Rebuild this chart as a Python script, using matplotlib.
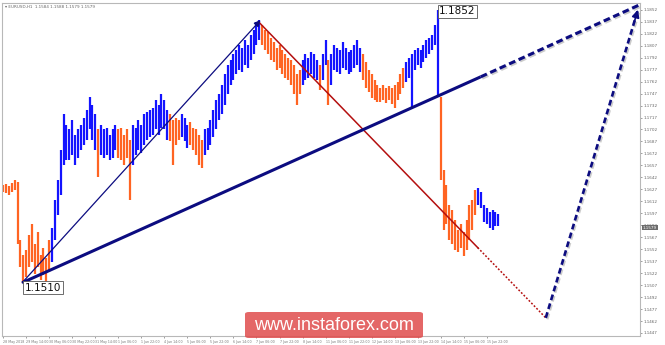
import numpy as np
import matplotlib
import matplotlib.pyplot as plt
import matplotlib.patheffects as pe
from matplotlib.patches import FancyBboxPatch
from matplotlib.transforms import blended_transform_factory

# Use non-interactive backend
matplotlib.use('Agg')

# --- EURUSD H1, one bar every 2 hours (high / low) ---
bar_highs = [
    1.1633, 1.1634, 1.1631, 1.1635, 1.1639, 1.1636, 1.1564, 1.1545, 1.1551, 1.1570,
    1.1583, 1.1558, 1.1574, 1.1545, 1.1554, 1.1541, 1.1564, 1.1579, 1.1614, 1.1639,
    1.1676, 1.1721, 1.1708, 1.1702, 1.1714, 1.1695, 1.1702, 1.1708, 1.1717, 1.1727,
    1.1743, 1.1733, 1.1721, 1.1702, 1.1708, 1.1702, 1.1704, 1.1695, 1.1702, 1.1708,
    1.1702, 1.1704, 1.1695, 1.1702, 1.1689, 1.1708, 1.1704, 1.1714, 1.1708, 1.1721,
    1.1724, 1.1727, 1.1729, 1.1739, 1.1733, 1.1746, 1.1739, 1.1727, 1.1721, 1.1714,
    1.1717, 1.1714, 1.1721, 1.1717, 1.1708, 1.1712, 1.1704, 1.1702, 1.1695, 1.1689,
    1.1702, 1.1704, 1.1714, 1.1727, 1.1739, 1.1746, 1.1758, 1.1771, 1.1783, 1.1789,
    1.1796, 1.1802, 1.1808, 1.1804, 1.1814, 1.1808, 1.1821, 1.1827, 1.1837, 1.1839,
    1.1833, 1.1827, 1.1824, 1.1817, 1.1812, 1.1804, 1.1808, 1.1802, 1.1796, 1.1792,
    1.1789, 1.1783, 1.1771, 1.1777, 1.1789, 1.1796, 1.1792, 1.1799, 1.1796, 1.1789,
    1.1783, 1.1796, 1.1814, 1.1789, 1.1796, 1.1808, 1.1804, 1.1802, 1.1812, 1.1804,
    1.1799, 1.1802, 1.1808, 1.1814, 1.1804, 1.1796, 1.1787, 1.1777, 1.1771, 1.1764,
    1.1758, 1.1754, 1.1758, 1.1754, 1.1757, 1.1754, 1.1758, 1.1762, 1.1771, 1.1779,
    1.1787, 1.1792, 1.1796, 1.1802, 1.1804, 1.1802, 1.1808, 1.1814, 1.1817, 1.1821,
    1.1833, 1.1852, 1.1743, 1.1651, 1.1633, 1.1607, 1.1601, 1.1589, 1.1576, 1.1583,
    1.1574, 1.1589, 1.1607, 1.1614, 1.1626, 1.1629, 1.1624, 1.1607, 1.1604, 1.1599,
    1.1601, 1.1599, 1.1596,
]
bar_lows = [
    1.1624, 1.1623, 1.1620, 1.1624, 1.1626, 1.1558, 1.1530, 1.1510, 1.1517, 1.1530,
    1.1536, 1.1521, 1.1530, 1.1513, 1.1520, 1.1511, 1.1524, 1.1536, 1.1564, 1.1595,
    1.1620, 1.1658, 1.1664, 1.1664, 1.1670, 1.1658, 1.1666, 1.1676, 1.1683, 1.1689,
    1.1702, 1.1689, 1.1676, 1.1643, 1.1670, 1.1666, 1.1670, 1.1664, 1.1666, 1.1676,
    1.1666, 1.1664, 1.1658, 1.1666, 1.1614, 1.1658, 1.1670, 1.1676, 1.1673, 1.1683,
    1.1689, 1.1692, 1.1695, 1.1702, 1.1695, 1.1704, 1.1702, 1.1689, 1.1687, 1.1658,
    1.1683, 1.1689, 1.1692, 1.1687, 1.1679, 1.1683, 1.1676, 1.1670, 1.1658, 1.1654,
    1.1670, 1.1676, 1.1683, 1.1692, 1.1702, 1.1714, 1.1721, 1.1733, 1.1746, 1.1758,
    1.1764, 1.1771, 1.1777, 1.1774, 1.1783, 1.1779, 1.1789, 1.1796, 1.1808, 1.1814,
    1.1808, 1.1802, 1.1796, 1.1789, 1.1787, 1.1777, 1.1779, 1.1771, 1.1767, 1.1764,
    1.1758, 1.1746, 1.1733, 1.1746, 1.1758, 1.1764, 1.1767, 1.1771, 1.1767, 1.1764,
    1.1752, 1.1764, 1.1783, 1.1733, 1.1758, 1.1777, 1.1774, 1.1771, 1.1779, 1.1777,
    1.1771, 1.1774, 1.1779, 1.1783, 1.1774, 1.1764, 1.1754, 1.1749, 1.1742, 1.1739,
    1.1737, 1.1737, 1.1739, 1.1735, 1.1739, 1.1734, 1.1729, 1.1739, 1.1746, 1.1754,
    1.1762, 1.1767, 1.1729, 1.1777, 1.1783, 1.1779, 1.1787, 1.1792, 1.1796, 1.1802,
    1.1808, 1.1743, 1.1639, 1.1576, 1.1583, 1.1564, 1.1558, 1.1551, 1.1549, 1.1554,
    1.1543, 1.1551, 1.1564, 1.1576, 1.1595, 1.1607, 1.1604, 1.1586, 1.1583, 1.1579,
    1.1576, 1.1581, 1.1581,
]
# wave colouring: (direction, number of sampled bars)
wave_runs = [
    ("down", 17), ("up", 16), ("down", 1), ("up", 6), ("down", 5), ("up", 13),
    ("down", 4), ("up", 3), ("down", 5), ("up", 20), ("down", 14), ("up", 6),
    ("down", 1), ("up", 2), ("down", 1), ("up", 11), ("down", 15), ("up", 12),
    ("down", 13), ("up", 8),
]
BARS_PER_SAMPLE = 2
HOURS_PER_LABEL = 16

# wave points (bar index, price)
wave_low = (13.2, 1.1510)
wave_peak = (178.8, 1.1839)
red_start = (177.4, 1.1837)
red_solid_end = (329.7, 1.1554)
target_low = (377.0, 1.1466)
target_high = (441.0, 1.1852)
trend_break = (331.8, 1.1768)
trend_end = (443.1, 1.1859)
label_low = (15.0, 1.1504, "1.1510")
label_high = (303.0, 1.1850, "1.1852")
last_price = 1.1579

price_ticks = [1.1447, 1.1462, 1.1477, 1.1492, 1.1507, 1.1522, 1.1537, 1.1552,
               1.1567, 1.1582, 1.1597, 1.1612, 1.1627, 1.1642, 1.1657, 1.1672,
               1.1687, 1.1702, 1.1717, 1.1732, 1.1747, 1.1762, 1.1777, 1.1792,
               1.1807, 1.1822, 1.1837, 1.1852]
time_labels = ["28 May 2018", "29 May 14:00", "30 May 06:00", "30 May 22:00",
               "31 May 14:00", "1 Jun 06:00", "1 Jun 22:00", "4 Jun 14:00",
               "5 Jun 06:00", "5 Jun 22:00", "6 Jun 14:00", "7 Jun 06:00",
               "7 Jun 22:00", "8 Jun 14:00", "11 Jun 06:00", "11 Jun 22:00",
               "12 Jun 14:00", "13 Jun 06:00", "13 Jun 22:00", "14 Jun 14:00",
               "15 Jun 06:00", "15 Jun 22:00"]

UP_COLOR = '#1414ff'
DOWN_COLOR = '#ff6422'
NAVY = '#0c0c80'
DARK_RED = '#b40f0f'

fig = plt.figure(figsize=(6.65, 3.45), dpi=100)
ax = fig.add_axes([0.003, 0.026, 0.9595, 0.966])

# --- price bars ---
x = np.arange(len(bar_highs)) * BARS_PER_SAMPLE
colors = []
for direction, n in wave_runs:
    colors += [UP_COLOR if direction == "up" else DOWN_COLOR] * n
ax.vlines(x, bar_lows, bar_highs, colors=colors, linewidth=1.6, zorder=2)

shadow = [pe.SimpleLineShadow(offset=(1.0, -1.0), shadow_color='#999999', alpha=0.5), pe.Normal()]

# thin arrow: low -> peak
ax.annotate('', xy=wave_peak, xytext=wave_low, zorder=4,
            arrowprops=dict(arrowstyle='-|>', color=NAVY, lw=0.9,
                            mutation_scale=9, shrinkA=0, shrinkB=0))

# red line from the peak, solid then dotted
ax.plot([red_start[0], red_solid_end[0]], [red_start[1], red_solid_end[1]],
        color=DARK_RED, lw=1.1, zorder=3)
ax.plot([red_solid_end[0], target_low[0]], [red_solid_end[1], target_low[1]],
        color=DARK_RED, lw=1.1, linestyle=(0, (1.2, 1.2)), zorder=3)

# thick trend line, solid then dashed
ax.plot([wave_low[0], trend_break[0]], [wave_low[1], trend_break[1]],
        color=NAVY, lw=2.2, solid_capstyle='butt', zorder=3)
ax.plot([trend_break[0], trend_end[0]], [trend_break[1], trend_end[1]],
        color=NAVY, lw=2.2, dashes=(2.2, 1.2), zorder=3, path_effects=shadow)
t = 0.97
ax.annotate('', xy=trend_end,
            xytext=(trend_break[0] + t * (trend_end[0] - trend_break[0]),
                    trend_break[1] + t * (trend_end[1] - trend_break[1])),
            arrowprops=dict(arrowstyle='-|>', color=NAVY, lw=1.5,
                            mutation_scale=14, shrinkA=0, shrinkB=0), zorder=4)

# dashed target line
ax.plot([target_low[0], target_high[0]], [target_low[1], target_high[1]],
        color=NAVY, lw=1.9, dashes=(2.2, 1.3), zorder=3, path_effects=shadow)
t = 0.96
ax.annotate('', xy=target_high,
            xytext=(target_low[0] + t * (target_high[0] - target_low[0]),
                    target_low[1] + t * (target_high[1] - target_low[1])),
            arrowprops=dict(arrowstyle='-|>', color=NAVY, lw=1.2,
                            mutation_scale=11, shrinkA=0, shrinkB=0), zorder=4)

# price labels
for bx, py, txt in [label_low, label_high]:
    ax.text(bx, py, txt, fontsize=7.5, ha='left', va='center', color='#111111', zorder=6,
            bbox=dict(boxstyle='square,pad=0.15', fc='white', ec='#555555', lw=0.6))

# axes styling
ax.set_xlim(-0.8, 442.5)
ax.set_ylim(1.14432, 1.18608)
ax.yaxis.tick_right()
ax.set_yticks(price_ticks)
ax.set_yticklabels([f"{p:.4f}" for p in price_ticks])
ax.set_xticks(np.arange(len(time_labels)) * HOURS_PER_LABEL)
ax.set_xticklabels(time_labels, ha='left')
ax.tick_params(axis='x', labelsize=2.3, colors='#777777', length=1.5, width=0.5, pad=1)
ax.tick_params(axis='y', labelsize=3.0, colors='#777777', labelcolor='#666666',
               length=1.5, width=0.5, pad=1)
for s in ax.spines.values():
    s.set_color('#b8b8b8')
    s.set_linewidth(0.8)

# current price marker on the axis
trans = blended_transform_factory(ax.transAxes, ax.transData)
ax.text(1.004, last_price, f"{last_price:.4f}", transform=trans, fontsize=3.0,
        color='white', va='center', ha='left', clip_on=False, zorder=7,
        bbox=dict(boxstyle='square,pad=0.2', fc='#6c6c6c', ec='none'))

# header
fig.text(0.008, 0.986, "\u25be EURUSD,H1  1.1584 1.1588 1.1579 1.1579",
         fontsize=3.0, color='#666666', va='top', ha='left')

# watermark
badge = FancyBboxPatch((245 / 665, 7 / 345), 178 / 665, 26 / 345,
                       boxstyle='round,pad=0,rounding_size=0.006',
                       transform=fig.transFigure, fc='#e04c4c', alpha=0.85,
                       ec='none', zorder=10)
fig.add_artist(badge)
fig.text(334 / 665, 20 / 345, "www.instaforex.com", fontsize=13,
         family='Liberation Sans', color='white', ha='center', va='center', zorder=11)

fig.savefig("out.png", dpi=100)
